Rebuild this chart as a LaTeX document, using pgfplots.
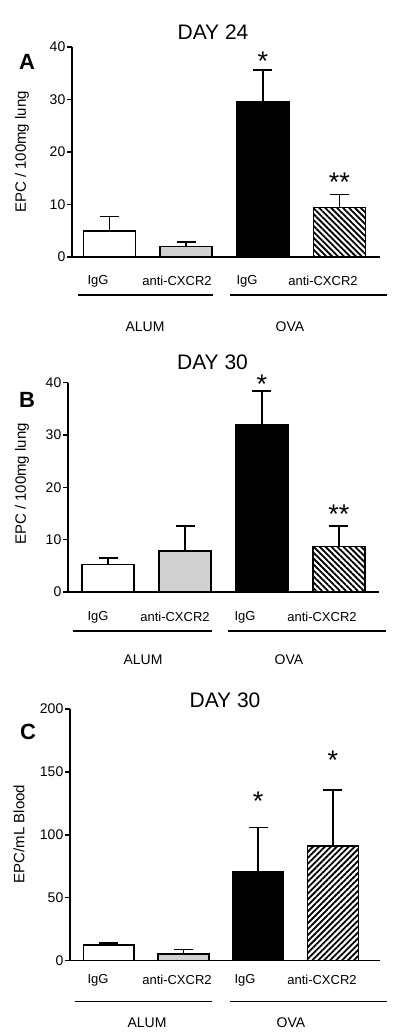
\documentclass[border=0pt]{standalone}
\usepackage{fontspec}
\setmainfont{Liberation Sans}
\usepackage{pgfplots}
\pgfplotsset{compat=1.18}
\usetikzlibrary{patterns.meta}

\pgfplotsset{
  panel/.style={
    scale only axis, anchor=south west, clip=false,
    axis lines=left, axis line style={-, line width=1.5pt},
    xtick=\empty, ymin=0,
    tick align=outside, major tick length=5pt,
    tick style={line width=1.4pt, black},
    yticklabel style={font=\fontsize{14}{14}\selectfont, inner sep=1.5pt},
    /pgf/number format/assume math mode=true,
  },
  bar/.style={ybar, bar width=0.68, draw=black, line width=1.5pt,
    error bars/y dir=plus, error bars/y explicit,
    error bars/error bar style={line width=1.5pt},
    error bars/error mark options={rotate=90, mark size=9.5pt, line width=1.5pt}},
}
\newcommand{\sig}[1]{\fontsize{27}{27}\selectfont #1}

\begin{document}
\begin{tikzpicture}
\useasboundingbox (0,0) rectangle (400pt,1035pt);

% ---------------- A: day 24 ----------------
\begin{axis}[panel, at={(72pt,778pt)}, width=308pt, height=210pt,
  xmin=0.51, xmax=4.53, ymax=40, ytick={0,10,...,40}]
\addplot[bar, fill=white] coordinates {(1,4.95) +- (0,2.8)};
\addplot[bar, fill=black!18] coordinates {(2,2.0) +- (0,0.86)};
\addplot[bar, fill=black] coordinates {(3,29.5) +- (0,6.1)};
\addplot[bar, pattern={Lines[angle=-45, distance=4.2pt, line width=1.8pt]}] coordinates {(4,9.4) +- (0,2.5)};
\node at (axis cs:3,37.3) {\sig{*}};
\node at (axis cs:4,14.3) {\sig{**}};
\end{axis}

% ---------------- B: day 30 lung ----------------
\begin{axis}[panel, at={(68pt,443pt)}, width=311pt, height=209.3pt,
  xmin=0.48, xmax=4.52, ymax=40, ytick={0,10,...,40}]
\addplot[bar, fill=white] coordinates {(1,5.3) +- (0,1.2)};
\addplot[bar, fill=black!18] coordinates {(2,7.8) +- (0,4.8)};
\addplot[bar, fill=black] coordinates {(3,31.9) +- (0,6.5)};
\addplot[bar, pattern={Lines[angle=-45, distance=4.2pt, line width=1.8pt]}] coordinates {(4,8.7) +- (0,3.9)};
\node at (axis cs:3,39.8) {\sig{*}};
\node at (axis cs:4,14.8) {\sig{**}};
\end{axis}

% ---------------- C: day 30 blood ----------------
\begin{axis}[panel, at={(70pt,74.3pt)}, width=310pt, height=251.7pt,
  xmin=0.48, xmax=4.63, ymax=200, ytick={0,50,...,200}]
\addplot[bar, fill=white] coordinates {(1,12.5) +- (0,1.5)};
\addplot[bar, fill=black!18] coordinates {(2,5.3) +- (0,3.7)};
\addplot[bar, fill=black] coordinates {(3,70.3) +- (0,35.5)};
\addplot[bar, pattern={Lines[angle=45, distance=4.2pt, line width=1.8pt]}] coordinates {(4,91.2) +- (0,44.6)};
\node at (axis cs:3,127) {\sig{*}};
\node at (axis cs:4,159) {\sig{*}};
\end{axis}

% titles, panel letters, y labels
\node[font=\fontsize{21}{21}\selectfont] at (213pt,1003pt) {DAY 24};
\node[font=\fontsize{21}{21}\selectfont] at (212.5pt,673pt) {DAY 30};
\node[font=\fontsize{21}{21}\selectfont] at (225pt,335pt) {DAY 30};
\node[font=\fontsize{22}{22}\selectfont\bfseries] at (27pt,973pt) {A};
\node[font=\fontsize{22}{22}\selectfont\bfseries] at (27pt,635pt) {B};
\node[font=\fontsize{22}{22}\selectfont\bfseries] at (28pt,303pt) {C};
\node[rotate=90, font=\fontsize{15}{15}\selectfont] at (22pt,883pt) {EPC / 100mg lung};
\node[rotate=90, font=\fontsize{15}{15}\selectfont] at (22pt,551pt) {EPC / 100mg lung};
\node[rotate=90, font=\fontsize{15}{15}\selectfont] at (19pt,201pt) {EPC/mL Blood};

% group labels under each panel
\foreach \ly/\gy/\ny/\xa/\xb/\xc/\xd/\la/\lb/\oa/\ob/\ga/\gb in
  {754/740/708/98/177/247/323/78/213/230/387/145/290,
   418/404/375/98/175/245/322/73/212/228/386/143/289,
   55/33.3/12/98/177/245/322/75/212/230/387/147/291}{
  \node[font=\fontsize{13}{13}\selectfont] at (\xa pt,\ly pt) {IgG};
  \node[font=\fontsize{13}{13}\selectfont] at (\xb pt,\ly pt) {anti-CXCR2};
  \node[font=\fontsize{13}{13}\selectfont] at (\xc pt,\ly pt) {IgG};
  \node[font=\fontsize{13}{13}\selectfont] at (\xd pt,\ly pt) {anti-CXCR2};
  \draw[line width=1.2pt] (\la pt,\gy pt) -- (\lb pt,\gy pt);
  \draw[line width=1.2pt] (\oa pt,\gy pt) -- (\ob pt,\gy pt);
  \node[font=\fontsize{14}{14}\selectfont] at (\ga pt,\ny pt) {ALUM};
  \node[font=\fontsize{14}{14}\selectfont] at (\gb pt,\ny pt) {OVA};
}
\end{tikzpicture}
\end{document}
